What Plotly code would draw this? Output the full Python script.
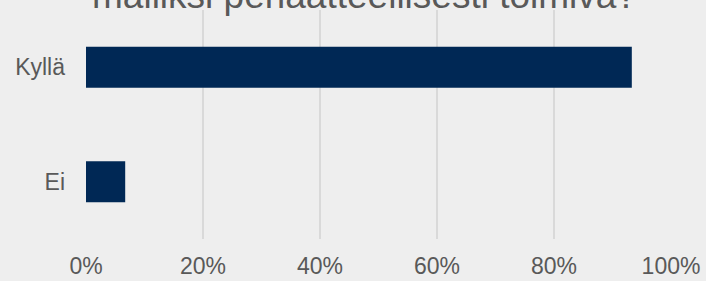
import plotly.graph_objects as go

categories = ["Ei", "Kyllä"]
values = [0.067, 0.933]
tick_vals = [0, 0.2, 0.4, 0.6, 0.8, 1.0]
tick_text = ["0%", "20%", "40%", "60%", "80%", "100%"]
title_text = "malliksi periaatteellisesti toimiva?"

W, H = 706, 281
FONT = "Liberation Sans, Arial, sans-serif"
GRAY = "#595959"

fig = go.Figure(
    go.Bar(
        x=values,
        y=categories,
        orientation="h",
        marker=dict(color="#002855", line=dict(width=0)),
        width=0.36,
        hoverinfo="x+y",
    )
)

fig.update_layout(
    width=W,
    height=H,
    margin=dict(l=86, r=35, t=9.5, b=42, pad=0, autoexpand=False),
    paper_bgcolor="#eeeeee",
    plot_bgcolor="#eeeeee",
    showlegend=False,
    font=dict(family=FONT, color=GRAY, size=23),
    title=dict(
        text=title_text,
        font=dict(family=FONT, size=37, color=GRAY),
        xref="container",
        yref="container",
        x=364.5 / W,
        xanchor="center",
        y=1 - 7.5 / H,
        yanchor="bottom",
        pad=dict(t=0, b=0, l=0, r=0),
        automargin=False,
    ),
    xaxis=dict(
        range=[0, 1],
        tickvals=tick_vals,
        ticktext=tick_text,
        showgrid=True,
        gridcolor="#d9d9d9",
        gridwidth=1.5,
        zeroline=False,
        showline=False,
        ticks="",
        ticklabelstandoff=11,
        tickfont=dict(family=FONT, size=23, color=GRAY),
        fixedrange=True,
        automargin=False,
    ),
    yaxis=dict(
        categoryorder="array",
        categoryarray=categories,
        showgrid=False,
        zeroline=False,
        showline=False,
        ticks="",
        ticklabelstandoff=20,
        tickfont=dict(family=FONT, size=23, color=GRAY),
        fixedrange=True,
        automargin=False,
    ),
)

fig.write_html(
    "out.html",
    config={"displayModeBar": False},
    post_script="document.body.style.margin='0';document.body.style.background='#eeeeee';",
)
